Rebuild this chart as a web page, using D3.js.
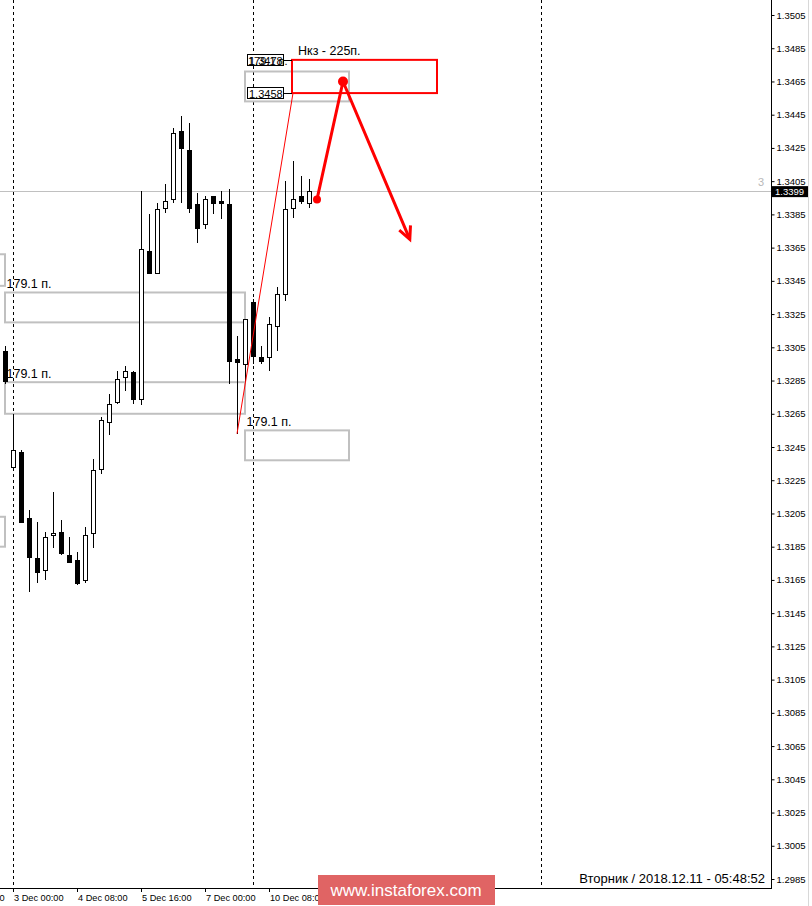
<!DOCTYPE html>
<html>
<head>
<meta charset="utf-8">
<script src="https://cdnjs.cloudflare.com/ajax/libs/d3/7.8.5/d3.min.js"></script>
<style>
  html, body { margin: 0; padding: 0; background: #fff; }
  #chart { width: 812px; height: 906px; }
  text { font-family: "Liberation Sans", Arial, sans-serif; }
</style>
</head>
<body>
<div id="chart"></div>
<script>
// H4 candles, 30 Nov 20:00 .. 11 Dec 04:00
var times = ['30 Nov 20:00',
  '3 Dec 00:00', '3 Dec 04:00', '3 Dec 08:00', '3 Dec 12:00', '3 Dec 16:00', '3 Dec 20:00',
  '4 Dec 00:00', '4 Dec 04:00', '4 Dec 08:00', '4 Dec 12:00', '4 Dec 16:00', '4 Dec 20:00',
  '5 Dec 00:00', '5 Dec 04:00', '5 Dec 08:00', '5 Dec 12:00', '5 Dec 16:00', '5 Dec 20:00',
  '6 Dec 00:00', '6 Dec 04:00', '6 Dec 08:00', '6 Dec 12:00', '6 Dec 16:00', '6 Dec 20:00',
  '7 Dec 00:00', '7 Dec 04:00', '7 Dec 08:00', '7 Dec 12:00', '7 Dec 16:00', '7 Dec 20:00',
  '10 Dec 00:00', '10 Dec 04:00', '10 Dec 08:00', '10 Dec 12:00', '10 Dec 16:00', '10 Dec 20:00',
  '11 Dec 00:00', '11 Dec 04:00'];
var open  = [1.3303, 1.3233, 1.3242, 1.3202, 1.3178, 1.3171, 1.3192, 1.3194, 1.3180, 1.3177,
             1.3165, 1.3193, 1.3232, 1.3260, 1.3272, 1.3287, 1.3290, 1.3274, 1.3363, 1.3350,
             1.3389, 1.3394, 1.3435, 1.3424, 1.3391, 1.3379, 1.3396, 1.3393, 1.3391, 1.3298,
             1.3295, 1.3332, 1.3299, 1.3299, 1.3318, 1.3337, 1.3389, 1.3396, 1.3392];
var high  = [1.3306, 1.3265, 1.3243, 1.3207, 1.3200, 1.3194, 1.3218, 1.3201, 1.3191, 1.3182,
             1.3197, 1.3238, 1.3263, 1.3277, 1.3291, 1.3294, 1.3291, 1.3399, 1.3385, 1.3392,
             1.3403, 1.3437, 1.3444, 1.3440, 1.3398, 1.3396, 1.3396, 1.3399, 1.3400, 1.3312,
             1.3322, 1.3334, 1.3306, 1.3323, 1.3341, 1.3405, 1.3417, 1.3408, 1.3406];
var low   = [1.3283, 1.3231, 1.3200, 1.3158, 1.3163, 1.3165, 1.3184, 1.3180, 1.3175, 1.3162,
             1.3163, 1.3184, 1.3229, 1.3252, 1.3271, 1.3279, 1.3271, 1.3270, 1.3349, 1.3350,
             1.3386, 1.3392, 1.3392, 1.3386, 1.3368, 1.3376, 1.3385, 1.3382, 1.3283, 1.3253,
             1.3284, 1.3295, 1.3295, 1.3291, 1.3303, 1.3333, 1.3383, 1.3391, 1.3389];
var close = [1.3285, 1.3243, 1.3200, 1.3179, 1.3170, 1.3191, 1.3193, 1.3181, 1.3176, 1.3163,
             1.3192, 1.3231, 1.3261, 1.3271, 1.3286, 1.3291, 1.3274, 1.3364, 1.3350, 1.3388,
             1.3393, 1.3434, 1.3425, 1.3389, 1.3377, 1.3394, 1.3392, 1.3392, 1.3297, 1.3296,
             1.3322, 1.3300, 1.3297, 1.3319, 1.3337, 1.3388, 1.3394, 1.3393, 1.3399];

var lastPrice = 1.3399;
var priceTicks = [1.2985, 1.3005, 1.3025, 1.3045, 1.3065, 1.3085, 1.3105, 1.3125, 1.3145,
                  1.3165, 1.3185, 1.3205, 1.3225, 1.3245, 1.3265, 1.3285, 1.3305, 1.3325,
                  1.3345, 1.3365, 1.3385, 1.3405, 1.3425, 1.3445, 1.3465, 1.3485, 1.3505];
var timeTickBars = [-7, 1, 9, 17, 25, 33];
var timeTickLabels = ['29 Nov 16:00', '3 Dec 00:00', '4 Dec 08:00', '5 Dec 16:00', '7 Dec 00:00', '10 Dec 08:00'];
var separatorBars = [1, 31, 67];

// analyst drawings, in bar index / price
var grayBoxBars   = [[-30, 0], [0, 30], [0, 30], [30, 43], [30, 43], [-30, 0]];
var grayBoxPrices = [[1.3361, 1.3342], [1.3338, 1.3320], [1.3284, 1.3265], [1.3255, 1.3237], [1.3471, 1.3453], [1.3203, 1.3185]];
var pipLabelBoxes = [1, 2, 3];
var pipLabel = '179.1 п.';
var targetBars = [35.875, 54];
var targetPrices = [1.3478, 1.3458];
var targetLabel = 'Нкз - 225п.';
var trendBars = [29, 36];
var trendPrices = [1.3253, 1.3458];
var pathBars = [39, 42.25, 50.6];
var pathPrices = [1.3394, 1.3465, 1.3370];
var footer = 'Вторник  /  2018.12.11  -  05:48:52';

(function() {
  var width = 812, height = 906;
  var axisX = 771, axisY = 888;

  var x = d3.scaleLinear().domain([0, 95.75]).range([5, axisX]);
  var y = d3.scaleLinear().domain([1.2985, 1.3505]).range([879, 15]);

  var svg = d3.select('#chart').append('svg')
    .attr('width', width)
    .attr('height', height);

  var plot = svg.append('g');
  plot.append('clipPath').attr('id', 'clip')
    .append('rect').attr('x', 0).attr('y', 0).attr('width', axisX).attr('height', axisY);
  var g = plot.append('g').attr('clip-path', 'url(#clip)');

  // right edge line
  svg.append('line')
    .attr('x1', 808.5).attr('x2', 808.5).attr('y1', 0).attr('y2', height)
    .attr('stroke', '#d8d8d8');

  // period separators
  g.selectAll('.sep')
    .data(separatorBars)
    .enter().append('line')
    .attr('x1', function(d) { return Math.round(x(d)) + 0.5; })
    .attr('x2', function(d) { return Math.round(x(d)) + 0.5; })
    .attr('y1', 0).attr('y2', axisY)
    .attr('stroke', '#000')
    .attr('stroke-dasharray', '3,3');

  // last price line
  var yLast = Math.round(y(lastPrice)) + 0.5;
  g.append('line')
    .attr('x1', 0).attr('x2', axisX).attr('y1', yLast).attr('y2', yLast)
    .attr('stroke', '#c0c0c0');
  g.append('text')
    .attr('x', 764).attr('y', yLast - 6)
    .attr('text-anchor', 'end')
    .attr('fill', '#b8b8b8')
    .style('font-size', '11px')
    .text('3');

  // gray boxes
  var boxes = grayBoxBars.map(function(b, i) { return {b: b, p: grayBoxPrices[i]}; });
  g.selectAll('.gbox')
    .data(boxes)
    .enter().append('rect')
    .attr('x', function(d) { return x(d.b[0]); })
    .attr('y', function(d) { return y(d.p[0]); })
    .attr('width', function(d) { return x(d.b[1]) - x(d.b[0]); })
    .attr('height', function(d) { return y(d.p[1]) - y(d.p[0]); })
    .attr('fill', 'none')
    .attr('stroke', '#c0c0c0')
    .attr('stroke-width', 2);

  g.selectAll('.plabel')
    .data(pipLabelBoxes)
    .enter().append('text')
    .attr('x', function(d) { return x(boxes[d].b[0]) + 1.5; })
    .attr('y', function(d) { return y(boxes[d].p[0]) - 4; })
    .attr('fill', '#000')
    .style('font-size', '12.5px')
    .text(pipLabel);

  // candles
  var bars = times.map(function(t, i) {
    return {t: t, i: i, o: open[i], h: high[i], l: low[i], c: close[i]};
  });

  var candle = g.selectAll('.candle')
    .data(bars)
    .enter().append('g');

  candle.append('line')
    .attr('x1', function(d) { return Math.round(x(d.i)) + 0.5; })
    .attr('x2', function(d) { return Math.round(x(d.i)) + 0.5; })
    .attr('y1', function(d) { return Math.round(y(d.h)); })
    .attr('y2', function(d) { return Math.round(y(d.l)); })
    .attr('stroke', '#000');

  candle.append('rect')
    .attr('x', function(d) { return Math.round(x(d.i)) - 1.5; })
    .attr('y', function(d) { return Math.round(y(Math.max(d.o, d.c))) + 0.5; })
    .attr('width', 4)
    .attr('height', function(d) { return Math.max(1, Math.round(y(Math.min(d.o, d.c))) - Math.round(y(Math.max(d.o, d.c)))); })
    .attr('fill', function(d) { return d.c >= d.o ? '#fff' : '#000'; })
    .attr('stroke', '#000');

  // thin trend line
  g.append('line')
    .attr('x1', x(trendBars[0])).attr('y1', y(trendPrices[0]))
    .attr('x2', x(trendBars[1])).attr('y2', y(trendPrices[1]))
    .attr('stroke', '#ff0000');

  // target zone
  var tx0 = x(targetBars[0]), tx1 = x(targetBars[1]);
  var ty0 = y(targetPrices[0]), ty1 = y(targetPrices[1]);
  g.append('rect')
    .attr('x', tx0).attr('y', ty0)
    .attr('width', tx1 - tx0).attr('height', ty1 - ty0)
    .attr('fill', 'none')
    .attr('stroke', '#ff0000')
    .attr('stroke-width', 2);
  g.append('text')
    .attr('x', tx0 + 6).attr('y', ty0 - 5)
    .style('font-size', '12.5px')
    .text(targetLabel);

  // price tags next to the target zone (the pip label is drawn over the first one, as in the original)
  targetPrices.forEach(function(p, k) {
    var yy = Math.round(y(p)) + 0.5;
    g.append('line')
      .attr('x1', 283).attr('x2', tx0).attr('y1', yy).attr('y2', yy)
      .attr('stroke', '#000');
    g.append('rect')
      .attr('x', 247.5).attr('y', yy - 6)
      .attr('width', 36).attr('height', 11)
      .attr('fill', '#fff').attr('stroke', '#000');
    g.append('text')
      .attr('x', 249).attr('y', yy + 4)
      .style('font-size', '11px')
      .text(d3.format('.4f')(p));
    if (k === 0) {
      g.append('text')
        .attr('x', 248).attr('y', yy + 4)
        .style('font-size', '11px')
        .text(pipLabel);
    }
  });

  // forecast path
  var pts = pathBars.map(function(b, i) { return [x(b), y(pathPrices[i])]; });
  g.append('path')
    .attr('d', d3.line()(pts))
    .attr('fill', 'none')
    .attr('stroke', '#ff0000')
    .attr('stroke-width', 3)
    .attr('stroke-linejoin', 'round');

  g.selectAll('.dot')
    .data(pts.slice(0, 2))
    .enter().append('circle')
    .attr('cx', function(d) { return d[0]; })
    .attr('cy', function(d) { return d[1]; })
    .attr('r', function(d, i) { return i === 0 ? 4 : 5; })
    .attr('fill', '#ff0000');

  // arrow head
  var a = pts[1], b = pts[2];
  var ang = Math.atan2(b[1] - a[1], b[0] - a[0]);
  var hl = 14, hw = 0.45;
  g.append('path')
    .attr('d', d3.line()([
      [b[0] - hl * Math.cos(ang - hw), b[1] - hl * Math.sin(ang - hw)],
      b,
      [b[0] - hl * Math.cos(ang + hw), b[1] - hl * Math.sin(ang + hw)]
    ]))
    .attr('fill', 'none')
    .attr('stroke', '#ff0000')
    .attr('stroke-width', 3);

  // axes frame
  svg.append('line')
    .attr('x1', axisX + 0.5).attr('x2', axisX + 0.5).attr('y1', 0).attr('y2', axisY + 1)
    .attr('stroke', '#000');
  svg.append('line')
    .attr('x1', 0).attr('x2', axisX + 1).attr('y1', axisY + 0.5).attr('y2', axisY + 0.5)
    .attr('stroke', '#000');

  // price axis
  var yAxis = d3.axisRight(y)
    .tickValues(priceTicks)
    .tickFormat(d3.format('.4f'))
    .tickSize(3)
    .tickPadding(2);
  var ya = svg.append('g')
    .attr('transform', 'translate(' + (axisX + 0.5) + ',0)')
    .call(yAxis);
  ya.select('.domain').remove();
  ya.selectAll('.tick>text')
    .each(function() {
      d3.select(this).style('font-size', '9.5px').style('font-family', '"Liberation Sans", Arial, sans-serif');
    });

  // last price tag
  svg.append('rect')
    .attr('x', 772).attr('y', y(lastPrice) - 5)
    .attr('width', 36).attr('height', 11)
    .attr('fill', '#000');
  svg.append('text')
    .attr('x', 775).attr('y', y(lastPrice) + 4)
    .attr('fill', '#fff')
    .style('font-size', '9.5px')
    .text(d3.format('.4f')(lastPrice));

  // time axis
  var tg = svg.append('g');
  timeTickBars.forEach(function(bi, k) {
    var xx = Math.round(x(bi)) + 0.5;
    tg.append('line')
      .attr('x1', xx).attr('x2', xx).attr('y1', axisY).attr('y2', axisY + 4)
      .attr('stroke', '#000');
    tg.append('text')
      .attr('x', xx + 0.5).attr('y', axisY + 13)
      .style('font-size', '9.2px')
      .text(timeTickLabels[k]);
  });

  // footer text
  svg.append('text')
    .attr('x', 765).attr('y', 883)
    .attr('text-anchor', 'end')
    .style('font-size', '13px')
    .text(footer);

  // watermark
  svg.append('rect')
    .attr('x', 318).attr('y', 875)
    .attr('width', 177).attr('height', 30)
    .attr('fill', '#e06464');
  svg.append('text')
    .attr('x', 406).attr('y', 896)
    .attr('text-anchor', 'middle')
    .attr('fill', '#fff')
    .style('font-size', '17px')
    .text('www.instaforex.com');
})();
</script>
</body>
</html>
